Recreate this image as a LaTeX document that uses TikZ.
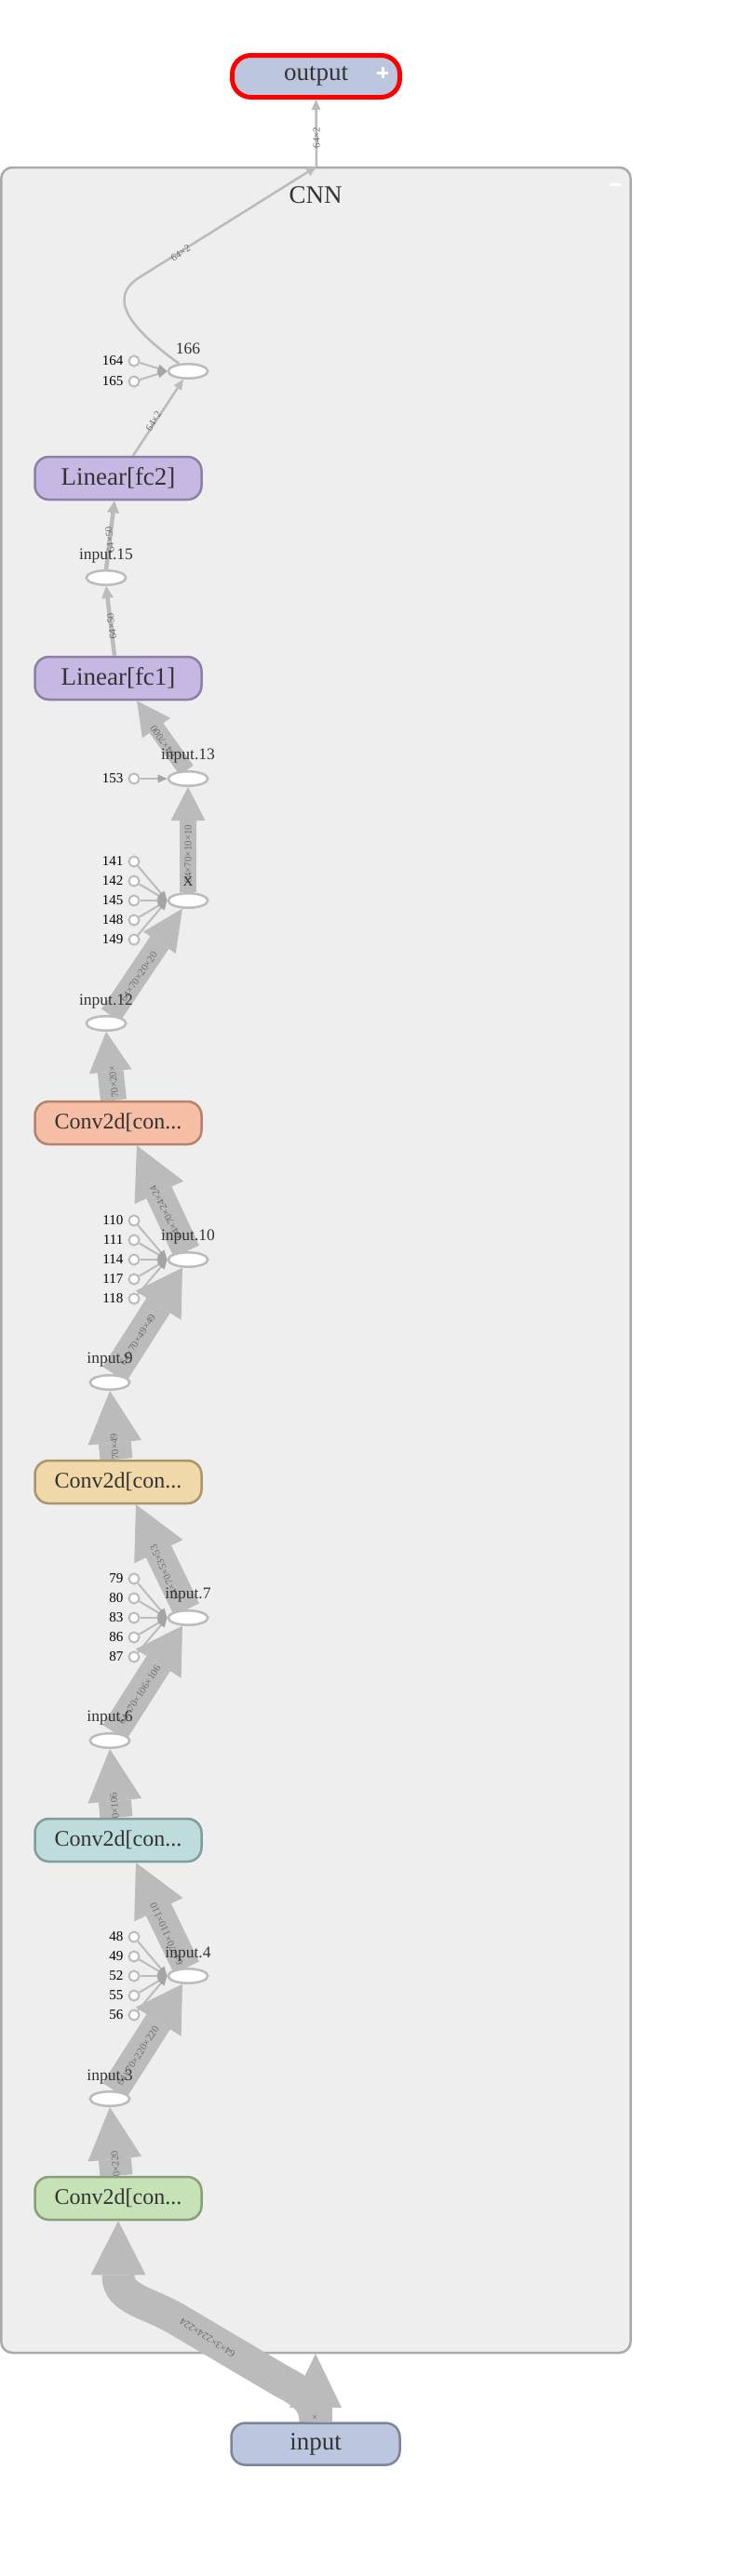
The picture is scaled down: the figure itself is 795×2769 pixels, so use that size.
\documentclass[tikz,border=0pt]{standalone}
\usepackage{fontspec}
\setmainfont{Liberation Serif}
\usetikzlibrary{arrows.meta,shapes.geometric,calc}
\pgfdeclarelayer{bg}\pgfdeclarelayer{edges}\pgfdeclarelayer{elabs}\pgfdeclarelayer{front}
\pgfsetlayers{bg,edges,elabs,main,front}
\definecolor{edgec}{RGB}{187,187,187}
\definecolor{cnnfill}{RGB}{238,238,238}
\definecolor{cnnline}{RGB}{170,170,170}
\definecolor{txt}{RGB}{51,51,51}
\definecolor{elab}{RGB}{110,110,110}
\definecolor{iofill}{RGB}{188,198,222}
\definecolor{ioline}{RGB}{125,133,153}
\definecolor{linfill}{RGB}{198,184,226}
\definecolor{linline}{RGB}{140,128,165}
\definecolor{orfill}{RGB}{245,190,165}
\definecolor{orline}{RGB}{180,130,110}
\definecolor{yefill}{RGB}{240,216,168}
\definecolor{yeline}{RGB}{170,150,110}
\definecolor{tefill}{RGB}{190,220,220}
\definecolor{teline}{RGB}{130,155,155}
\definecolor{grfill}{RGB}{198,226,182}
\definecolor{grline}{RGB}{135,160,120}
\definecolor{ellline}{RGB}{187,187,187}
\definecolor{constarrow}{RGB}{165,165,165}
\tikzset{
 opbox/.style={rounded corners=15pt, line width=2.5pt, minimum width=179pt, minimum height=46pt, inner sep=0pt, text=txt, font=\fontsize{27}{30}\selectfont},
 convbox/.style={opbox, font=\fontsize{24}{28}\selectfont},
 opnode/.style={ellipse, draw=ellline, fill=white, line width=2.5pt, minimum width=42.5pt, minimum height=15.5pt, inner sep=0pt},
 constnode/.style={circle, draw=ellline, fill=white, line width=2pt, minimum size=11pt, inner sep=0pt},
 constlab/.style={anchor=east, font=\fontsize{15}{17}\selectfont, text=black, inner sep=0pt},
 oplab/.style={font=\fontsize{17.5}{20}\selectfont, text=txt, inner sep=0pt},
 elabel/.style={font=\fontsize{11}{12}\selectfont, text=elab, inner sep=0pt},
 fat/.style n args={3}{draw=edgec, line width=#1, -{Triangle[width=#2,length=#3,line width=0pt 0 0]}},
 constedge/.style={draw=edgec, line width=2pt, -{Triangle[width=9pt,length=10pt,color=constarrow,line width=0pt 0 0]}},
}
\begin{document}
\begin{tikzpicture}[x=1pt,y=-1pt]
\useasboundingbox (0,0) rectangle (795,2769);
\begin{pgfonlayer}{bg}
\fill[white] (0,0) rectangle (795,2769);
\draw[fill=cnnfill, draw=cnnline, line width=2.5pt, rounded corners=12pt] (1.25,180) rectangle (677.5,2529);
\draw[white, line width=3pt] (655,198) -- (667,198);
\end{pgfonlayer}
\node[text=txt, font=\fontsize{27}{30}\selectfont, inner sep=0pt] (cnnlab) at (339,210) {CNN};

% operation boxes
\node[opbox, fill=iofill, draw=red, line width=5pt, minimum width=180pt, minimum height=45pt, rounded corners=20pt] (out) at (339.5,82) {output};
\draw[white, line width=3pt] (405,78) -- (417,78) (411,72) -- (411,84);
\node[opbox, fill=iofill, draw=ioline, minimum width=181pt, minimum height=45pt] (in) at (339,2627) {input};
\node[opbox, fill=linfill, draw=linline] (fc2) at (127,514) {Linear[fc2]};
\node[opbox, fill=linfill, draw=linline] (fc1) at (127,729) {Linear[fc1]};
\node[convbox, fill=orfill, draw=orline] (cor) at (127,1207) {Conv2d[con...};
\node[convbox, fill=yefill, draw=yeline] (cye) at (127,1593) {Conv2d[con...};
\node[convbox, fill=tefill, draw=teline] (cte) at (127,1978) {Conv2d[con...};
\node[convbox, fill=grfill, draw=grline] (cgr) at (127,2363) {Conv2d[con...};

% op ellipses
\node[opnode] (e166) at (202,399) {};
\node[opnode] (e15) at (114,621) {};
\node[opnode] (e13) at (202,837) {};
\node[opnode] (eX) at (202,968) {};
\node[opnode] (e12) at (114,1100) {};
\node[opnode] (e10) at (202,1354) {};
\node[opnode] (e9) at (118,1486) {};
\node[opnode] (e7) at (202,1739) {};
\node[opnode] (e6) at (118,1871) {};
\node[opnode] (e4) at (202,2124) {};
\node[opnode] (e3) at (118,2256) {};

\begin{pgfonlayer}{front}
\node[oplab] (t166) at (202,375) {166};
\node[oplab] (t15) at (114,598) {input.15};
\node[oplab] (t13) at (202,813) {input.13};
\node[oplab, font=\fontsize{15}{17}\selectfont] (tX) at (202,948) {X};
\node[oplab] (t12) at (114,1077) {input.12};
\node[oplab] (t10) at (202,1330) {input.10};
\node[oplab] (t9) at (118,1462) {input.9};
\node[oplab] (t7) at (202,1715) {input.7};
\node[oplab] (t6) at (118,1847) {input.6};
\node[oplab] (t4) at (202,2101) {input.4};
\node[oplab] (t3) at (118,2233) {input.3};
\end{pgfonlayer}

% constants
\foreach \n/\y in {164/388,165/410,153/837,141/926,142/947,145/968,148/989,149/1010,110/1312,111/1333,114/1354,117/1375,118/1396,79/1697,80/1718,83/1739,86/1760,87/1781,48/2082,49/2103,52/2124,55/2145,56/2166}{
  \node[constnode] (k\n) at (144,\y) {};
  \node[constlab] (kl\n) at (132.5,\y) {\n};
}

\coordinate (cnnTop) at (340,179);
\coordinate (cnnIn) at (339,2530);

\begin{pgfonlayer}{edges}
\foreach \n in {164,165}{\draw[constedge] (k\n) -- (e166.west);}
\draw[constedge] (k153) -- (e13.west);
\foreach \n in {141,142,145,148,149}{\draw[constedge] (k\n) -- (eX.west);}
\foreach \n in {110,111,114,117,118}{\draw[constedge] (k\n) -- (e10.west);}
\foreach \n in {79,80,83,86,87}{\draw[constedge] (k\n) -- (e7.west);}
\foreach \n in {48,49,52,55,56}{\draw[constedge] (k\n) -- (e4.west);}

\draw[fat={35pt}{56pt}{58pt}] (in.north) -- (cnnIn);
\draw[fat={35pt}{59pt}{58pt}] (in.north) .. controls ([yshift=25pt]in.north) and (322,2570) .. (300,2558) -- (190,2493) .. controls (160,2475) and (127,2472) .. ([yshift=-59pt]cgr.south) -- (cgr.south);
\draw[fat={35pt}{58pt}{56pt}] ([xshift=-2pt]cgr.north) -- (e3.south);
\draw[fat={30pt}{58pt}{48pt}] (e3.60) -- (e4.235);
\draw[fat={30pt}{58pt}{56pt}] (e4.100) -- ([xshift=19pt]cte.south);
\draw[fat={35pt}{58pt}{56pt}] ([xshift=-2pt]cte.north) -- (e6.south);
\draw[fat={30pt}{58pt}{48pt}] (e6.60) -- (e7.235);
\draw[fat={30pt}{58pt}{56pt}] (e7.100) -- ([xshift=19pt]cye.south);
\draw[fat={35pt}{58pt}{56pt}] ([xshift=-2pt]cye.north) -- (e9.south);
\draw[fat={30pt}{58pt}{48pt}] (e9.60) -- (e10.235);
\draw[fat={30pt}{58pt}{56pt}] (e10.100) -- ([xshift=20pt]cor.south);
\draw[fat={28pt}{46pt}{43pt}] ([xshift=-5pt]cor.north) -- (e12.south);
\draw[fat={24pt}{42pt}{44pt}] (e12.60) -- (eX.235);
\draw[fat={18pt}{37pt}{36pt}] (eX.north) -- (e13.south);
\draw[fat={18pt}{37pt}{36pt}] (e13.100) -- ([xshift=20pt]fc1.south);
\draw[fat={4.5pt}{13pt}{13pt}] ([xshift=-4pt]fc1.north) -- (e15.south);
\draw[fat={4.5pt}{13pt}{13pt}] (e15.north) -- ([xshift=-4pt]fc2.south);
\draw[fat={2.5pt}{10pt}{11pt}] ([xshift=16pt]fc2.north) -- (e166.240);
\draw[fat={2.5pt}{10pt}{11pt}] (e166.140) .. controls (150,360) and (110,323) .. (150,298) -- (cnnTop);
\draw[fat={2.5pt}{10pt}{11pt}] (cnnTop) -- (out.south);
\end{pgfonlayer}

\begin{pgfonlayer}{elabs}
\node[elabel, rotate=90] (l1) at (340,148) {64×2};
\node[elabel, rotate=32.6] (l2) at (194,272) {64×2};
\node[elabel, rotate=58.6] (l3) at (165,453) {64×2};
\node[elabel, rotate=96] (l4) at (118,580) {64×50};
\node[elabel, rotate=97] (l5) at (120,673) {64×50};
\node[elabel, rotate=125] (l6) at (175,797) {64×7000};
\node[elabel, rotate=90] (l7) at (202,918) {64×70×10×10};
\node[elabel, rotate=56] (l8) at (149,1050) {64×70×20×20};
\node[elabel, rotate=96] (l9) at (122,1163) {70×20×};
\node[elabel, rotate=117] (l10) at (178,1303) {64×70×24×24};
\node[elabel, rotate=58] (l11) at (148,1440) {64×70×49×49};
\node[elabel, rotate=95] (l12) at (123,1555) {70×49};
\node[elabel, rotate=114] (l13) at (177,1690) {64×70×53×53};
\node[elabel, rotate=57] (l14) at (150,1822) {64×70×106×106};
\node[elabel, rotate=95] (l15) at (123,1941) {0×106};
\node[elabel, rotate=114] (l16) at (179,2079) {64×70×110×110};
\node[elabel, rotate=57] (l17) at (148,2210) {64×70×220×220};
\node[elabel, rotate=95] (l18) at (124,2326) {0×220};
\node[elabel, rotate=147.7] (l19) at (223,2513) {64×3×224×224};
\node[elabel, rotate=90] (l20) at (339,2598) {×};
\end{pgfonlayer}
\end{tikzpicture}
\end{document}
